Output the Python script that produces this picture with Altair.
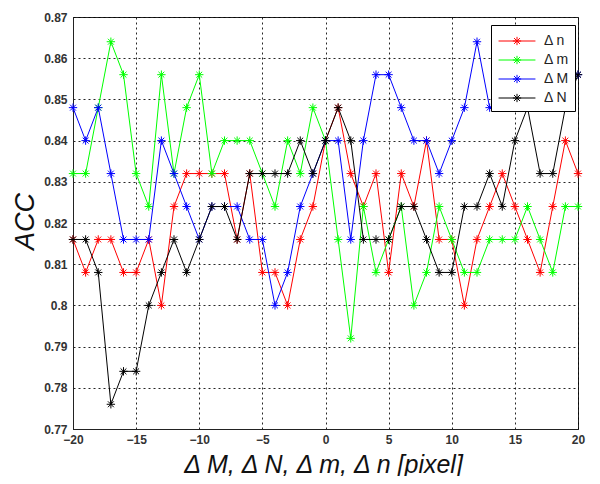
import altair as alt
import pandas as pd

x_vals = list(range(-20, 21))

d_n = [0.816, 0.808, 0.816, 0.816, 0.808, 0.808, 0.816, 0.800, 0.824, 0.832,
       0.832, 0.832, 0.832, 0.816, 0.832, 0.808, 0.808, 0.800, 0.816, 0.824,
       0.840, 0.848, 0.832, 0.824, 0.832, 0.808, 0.832, 0.824, 0.840, 0.816,
       0.816, 0.800, 0.816, 0.824, 0.832, 0.824, 0.816, 0.808, 0.824, 0.840,
       0.832]
d_m = [0.832, 0.832, 0.848, 0.864, 0.856, 0.832, 0.824, 0.856, 0.832, 0.848,
       0.856, 0.832, 0.840, 0.840, 0.840, 0.832, 0.824, 0.840, 0.832, 0.848,
       0.840, 0.816, 0.792, 0.824, 0.808, 0.816, 0.824, 0.800, 0.808, 0.824,
       0.816, 0.808, 0.808, 0.816, 0.816, 0.816, 0.824, 0.816, 0.808, 0.824,
       0.824]
d_M = [0.848, 0.840, 0.848, 0.832, 0.816, 0.816, 0.816, 0.840, 0.832, 0.824,
       0.816, 0.824, 0.824, 0.824, 0.816, 0.816, 0.800, 0.808, 0.824, 0.832,
       0.840, 0.840, 0.816, 0.840, 0.856, 0.856, 0.848, 0.840, 0.840, 0.832,
       0.840, 0.848, 0.864, 0.848, 0.848, 0.848, 0.856, 0.856, 0.864, 0.856,
       0.856]
d_N = [0.816, 0.816, 0.808, 0.776, 0.784, 0.784, 0.800, 0.808, 0.816, 0.808,
       0.816, 0.824, 0.824, 0.816, 0.832, 0.832, 0.832, 0.832, 0.840, 0.832,
       0.840, 0.848, 0.840, 0.816, 0.816, 0.816, 0.824, 0.824, 0.816, 0.808,
       0.808, 0.824, 0.824, 0.832, 0.824, 0.840, 0.848, 0.832, 0.832, 0.848,
       0.856]

series_names = ["Δ n", "Δ m", "Δ M", "Δ N"]
series_colors = ["#ff0000", "#00ff00", "#0000ff", "#000000"]
y_ticks = [0.77, 0.78, 0.79, 0.80, 0.81, 0.82, 0.83, 0.84, 0.85, 0.86, 0.87]
x_ticks = [-20, -15, -10, -5, 0, 5, 10, 15, 20]

rows = []
for name, vals in zip(series_names, [d_n, d_m, d_M, d_N]):
    for xv, v in zip(x_vals, vals):
        rows.append({"x": xv, "acc": v, "series": name})
df = pd.DataFrame(rows)

star = "M-1,0L1,0M0,-1L0,1M-0.7,-0.7L0.7,0.7M-0.7,0.7L0.7,-0.7"
legend_sym = ("M-2,0L2,0M-0.45,0L0.45,0M0,-0.45L0,0.45"
              "M-0.32,-0.32L0.32,0.32M-0.32,0.32L0.32,-0.32")

FONT = "Liberation Sans"

x_enc = alt.X("x:Q", scale=alt.Scale(domain=[-20, 20], nice=False),
              axis=alt.Axis(values=x_ticks, title="Δ M, Δ N, Δ m, Δ n [pixel]",
                            titleX=250, titleY=43, titleAlign="center",
                            titleBaseline="alphabetic", labelFlush=False,
                            labelPadding=5))
y_enc = alt.Y("acc:Q", scale=alt.Scale(domain=[0.77, 0.87], nice=False, zero=False),
              axis=alt.Axis(values=y_ticks, format=".2~f", title="ACC",
                            titleX=-40, titleY=204, titleAngle=-90,
                            titleAlign="center", titleBaseline="alphabetic",
                            titleFontSize=27,
                            labelFlush=False, labelPadding=6))
color_enc = alt.Color("series:N",
                      scale=alt.Scale(domain=series_names, range=series_colors),
                      legend=alt.Legend(title=None, orient="none", legendX=418, legendY=8,
                                        fillColor="white", strokeColor="black",
                                        padding=6, symbolType=legend_sym, symbolSize=340,
                                        symbolStrokeWidth=1, symbolOffset=10,
                                        labelOffset=17, labelFontSize=14, labelFont=FONT,
                                        labelColor="#222", rowPadding=2))

layers = []
for name in series_names:
    base = alt.Chart(df).transform_filter(alt.datum.series == name)
    line = base.mark_line(strokeWidth=1).encode(x=x_enc, y=y_enc, color=color_enc)
    pts = base.mark_point(shape=star, filled=False, size=70, strokeWidth=1,
                          opacity=1).encode(x=x_enc, y=y_enc, color=color_enc)
    layers += [line, pts]

chart = alt.layer(*layers).properties(
    width=505, height=412,
    autosize=alt.AutoSizeParams(type="none"),
    padding={"left": 65, "top": 9, "right": 14, "bottom": 47},
    background="white",
).configure_view(
    stroke="#222", strokeWidth=1
).configure_axis(
    grid=True, gridColor="#000", gridDash=[2, 3], gridOpacity=0.85, gridWidth=1,
    domainColor="#222", ticks=False,
    labelFont=FONT, labelFontSize=12, labelFontWeight="bold", labelColor="#333",
    titleFont=FONT, titleFontSize=25, titleFontWeight="normal",
    titleFontStyle="italic", titleColor="#111",
)

chart.save("out.html", embed_options={"renderer": "svg", "actions": False})
